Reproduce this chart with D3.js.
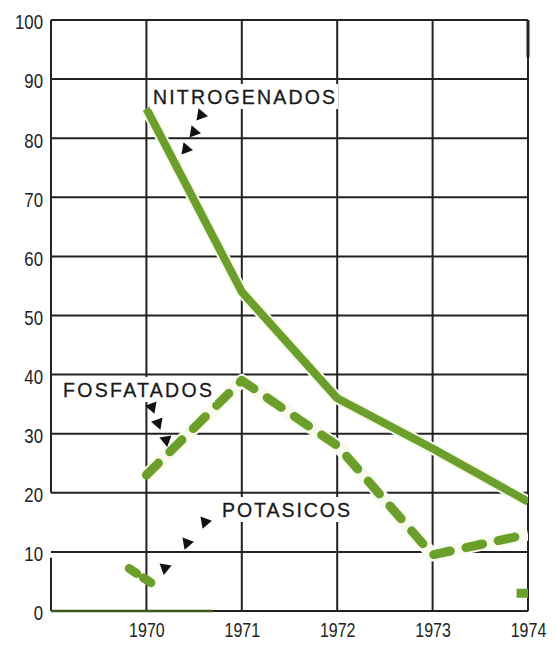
<!DOCTYPE html>
<html>
<head>
<meta charset="utf-8">
<script src="https://cdn.jsdelivr.net/npm/d3@7"></script>
<style>
html,body{margin:0;padding:0;background:#fff;}
svg{display:block;}
</style>
</head>
<body>
<svg id="chart" width="557" height="650"></svg>
<script>
// ---- data ----
const years = [1970, 1971, 1972, 1973, 1974];
const yTicks = [0, 10, 20, 30, 40, 50, 60, 70, 80, 90, 100];
const nitrogenados = [85, 54, 36, 27.5, 18.5];
const fosfatados = [23, 39, 28, 9.5, 13];
const potasicosX = [1969.82, 1970.1];
const potasicosY = [7.2, 4.2];
const potasicosEndX = [1973.88, 1974];
const potasicosEndY = [3, 3];
const potasicosBaseX = [1969, 1970.7];
const potasicosBaseY = [0, 0];
const seriesLabels = ["NITROGENADOS", "FOSFATADOS", "POTASICOS"];

// ---- scales ----
const svg = d3.select("#chart");
const x = d3.scaleLinear().domain([1969, 1974]).range([51, 528]);
const y = d3.scaleLinear().domain([0, 100]).range([611, 20]);
const green = "#6b9e2a";
const ink = "#222";

// grid
const grid = svg.append("g");
grid.selectAll("line.h").data(yTicks.filter(d => d > 0)).join("line")
  .attr("x1", x(1969)).attr("x2", x(1974))
  .attr("y1", d => y(d)).attr("y2", d => y(d))
  .attr("stroke", ink).attr("stroke-width", 2);
grid.selectAll("line.v").data(years).join("line")
  .attr("x1", d => x(d)).attr("x2", d => x(d))
  .attr("y1", y(100)).attr("y2", y(0))
  .attr("stroke", ink).attr("stroke-width", 2);
grid.append("line").attr("x1", x(1969)).attr("x2", x(1969))
  .attr("y1", y(100)).attr("y2", y(20)).attr("stroke", ink).attr("stroke-width", 2);
grid.append("line").attr("x1", x(1969)).attr("x2", x(1969))
  .attr("y1", y(9)).attr("y2", y(0)).attr("stroke", ink).attr("stroke-width", 2);
grid.append("line").attr("x1", x(1969)).attr("x2", x(1974))
  .attr("y1", y(0)).attr("y2", y(0)).attr("stroke", ink).attr("stroke-width", 2);
grid.append("line").attr("x1", x(1974)).attr("x2", x(1974))
  .attr("y1", y(100)).attr("y2", y(93.7)).attr("stroke", ink).attr("stroke-width", 3);

// condensed look for tick labels
function condense(sel, f) {
  sel.each(function() {
    const len = this.getComputedTextLength();
    d3.select(this).attr("textLength", len * f).attr("lengthAdjust", "spacingAndGlyphs");
  });
}

const yAxis = d3.axisLeft(y).tickValues(yTicks).tickSize(0).tickPadding(8);
const gy = svg.append("g").attr("transform", `translate(${x(1969)},0)`).call(yAxis);
gy.select(".domain").remove();
gy.selectAll("text")
  .attr("font-family", "'Liberation Sans',Arial,sans-serif")
  .attr("font-size", 21).attr("fill", "#222").attr("dy", "0.42em")
  .call(condense, 0.8);

const xAxis = d3.axisBottom(x).tickValues(years).tickFormat(d3.format("d")).tickSize(0).tickPadding(12);
const gx = svg.append("g").attr("transform", `translate(0,${y(0)})`).call(xAxis);
gx.select(".domain").remove();
gx.selectAll("text")
  .attr("font-family", "'Liberation Sans',Arial,sans-serif")
  .attr("font-size", 20).attr("fill", "#222")
  .call(condense, 0.8);

// series
const line = d3.line().x(d => x(d[0])).y(d => y(d[1]));
const nData = years.map((yr, i) => [yr, nitrogenados[i]]);
const fData = years.map((yr, i) => [yr, fosfatados[i]]);
const pData = potasicosX.map((v, i) => [v, potasicosY[i]]);
const pEnd = potasicosEndX.map((v, i) => [v, potasicosEndY[i]]);
const pBase = potasicosBaseX.map((v, i) => [v, potasicosBaseY[i]]);

svg.append("defs").append("clipPath").attr("id", "clip")
  .append("rect").attr("x", x(1969) - 10).attr("y", y(100)).attr("width", x(1974) - x(1969) + 10).attr("height", y(0) - y(100) + 5);
const plot = svg.append("g").attr("clip-path", "url(#clip)");

plot.append("path").datum(nData).attr("d", line).attr("fill", "none")
  .attr("stroke", "#f5f9e8").attr("stroke-width", 12).attr("stroke-linejoin", "round");
plot.append("path").datum(fData).attr("d", line).attr("fill", "none")
  .attr("stroke", "#f7faec").attr("stroke-width", 13).attr("stroke-linejoin", "round");

plot.append("path").datum(pBase).attr("d", line).attr("fill", "none")
  .attr("stroke", "#3c5a1c").attr("stroke-width", 2.5);
plot.append("path").datum(nData).attr("d", line).attr("fill", "none")
  .attr("stroke", green).attr("stroke-width", 8).attr("stroke-linejoin", "round");
plot.append("path").datum(fData).attr("d", line).attr("fill", "none")
  .attr("stroke", green).attr("stroke-width", 9).attr("stroke-linejoin", "round")
  .attr("stroke-linecap", "round").attr("stroke-dasharray", "17 16");
plot.append("path").datum(pData).attr("d", line).attr("fill", "none")
  .attr("stroke", green).attr("stroke-width", 9).attr("stroke-linecap", "round")
  .attr("stroke-dasharray", "9 8");
plot.append("path").datum(pEnd).attr("d", line).attr("fill", "none")
  .attr("stroke", green).attr("stroke-width", 9);

// series labels with white background
const labelPos = [
  {t: seriesLabels[0], x: 153, y: 104, w: 182},
  {t: seriesLabels[1], x: 63, y: 397, w: 149},
  {t: seriesLabels[2], x: 222, y: 517, w: 128}
];
const lg = svg.append("g");
labelPos.forEach(p => {
  lg.append("rect").attr("x", p.x - 3).attr("y", p.y - 20).attr("width", p.w + 6).attr("height", 25)
    .attr("fill", "#fff");
  lg.append("text").attr("x", p.x).attr("y", p.y).text(p.t)
    .attr("font-family", "'Liberation Sans',Arial,sans-serif").attr("font-size", 19.5)
    .attr("fill", "#1a1a1a").attr("stroke", "#1a1a1a").attr("stroke-width", 0.3)
    .attr("textLength", p.w).attr("lengthAdjust", "spacing");
});

// arrow triangles
const arrows = [
  {x: 201, y: 115, r: 100}, {x: 194, y: 132, r: 100}, {x: 186, y: 149, r: 100},
  {x: 152, y: 407, r: -80}, {x: 158, y: 423, r: -80}, {x: 166, y: 440, r: -70},
  {x: 205, y: 522, r: 80}, {x: 187, y: 543, r: 80}, {x: 165, y: 568, r: 70}
];
const tri = d3.symbol().type(d3.symbolTriangle).size(65);
svg.append("g").selectAll("path").data(arrows).join("path")
  .attr("d", tri)
  .attr("transform", d => `translate(${d.x},${d.y}) rotate(${d.r})`)
  .attr("fill", "#111");
</script>
</body>
</html>
